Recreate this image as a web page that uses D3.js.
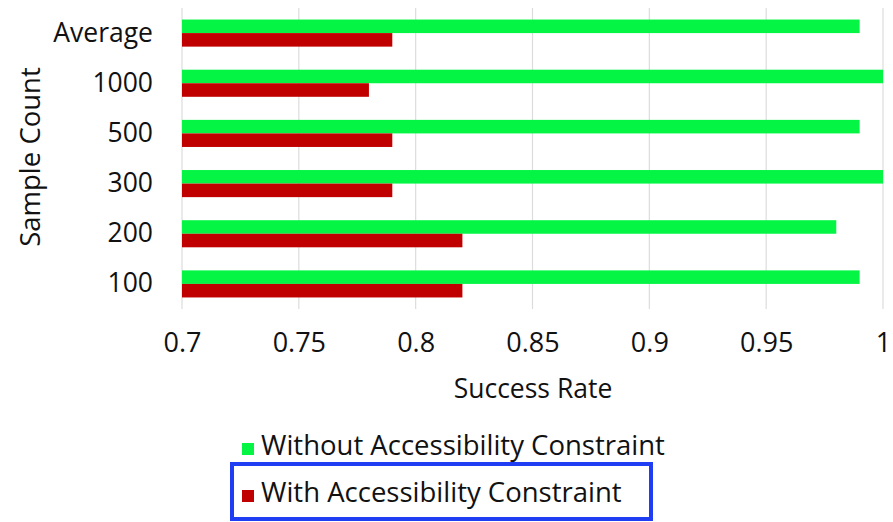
<!DOCTYPE html>
<html>
<head>
<meta charset="utf-8">
<script src="https://cdn.jsdelivr.net/npm/d3@7/dist/d3.min.js"></script>
<style>
  html, body { margin: 0; padding: 0; background: #fff; }
  svg { display: block; font-family: "Open Sans", Lato, sans-serif; }
</style>
</head>
<body>
<svg id="chart" width="893" height="522"></svg>
<script>
// Sample counts, listed top to bottom
const categories = ["Average", "1000", "500", "300", "200", "100"];
const withoutConstraint = [0.99, 1.0, 0.99, 1.0, 0.98, 0.99];
const withConstraint = [0.79, 0.78, 0.79, 0.79, 0.82, 0.82];
const xTicks = [0.7, 0.75, 0.8, 0.85, 0.9, 0.95, 1.0];
const xTickLabels = ["0.7", "0.75", "0.8", "0.85", "0.9", "0.95", "1"];
const seriesNames = ["Without Accessibility Constraint", "With Accessibility Constraint"];
const seriesColors = ["#05f545", "#c00000"];

const svg = d3.select("#chart");
const font = "'Open Sans', Lato, sans-serif";
const textColor = "#111";

const x = d3.scaleLinear().domain([0.7, 1.0]).range([182, 883]);
const y = d3.scaleBand().domain(categories).range([8, 309]).paddingInner(0.46).paddingOuter(0.23);
const sub = d3.scaleBand().domain([0, 1]).range([0, y.bandwidth()]);

// Vertical gridlines
svg.append("g")
  .selectAll("line")
  .data(xTicks)
  .join("line")
  .attr("x1", d => x(d)).attr("x2", d => x(d))
  .attr("y1", 8).attr("y2", 309)
  .attr("stroke", "#dcdcdc").attr("stroke-width", 1.2);

// Bars, one group per series
const series = [withoutConstraint, withConstraint];
series.forEach((vals, si) => {
  svg.append("g")
    .selectAll("rect")
    .data(categories.map((c, i) => ({ c, v: vals[i] })))
    .join("rect")
    .attr("x", x(0.7))
    .attr("y", d => y(d.c) + sub(si))
    .attr("width", d => x(d.v) - x(0.7))
    .attr("height", sub.bandwidth())
    .attr("fill", seriesColors[si]);
});

// Category axis
const yAxis = svg.append("g")
  .attr("transform", "translate(182,0)")
  .call(d3.axisLeft(y).tickSize(0).tickPadding(29));
yAxis.select(".domain").remove();
yAxis.selectAll("text")
  .attr("font-size", 26.5).attr("fill", textColor)
  .attr("font-family", font);

// Value axis
const xAxis = svg.append("g")
  .attr("transform", "translate(0,331)")
  .call(d3.axisBottom(x).tickValues(xTicks).tickFormat((d, i) => xTickLabels[i]).tickSize(0).tickPadding(2));
xAxis.select(".domain").remove();
xAxis.selectAll("text")
  .attr("font-size", 27).attr("fill", textColor)
  .attr("font-family", font);

// Axis titles
svg.append("text")
  .attr("x", 533).attr("y", 398)
  .attr("text-anchor", "middle")
  .attr("font-size", 26.5).attr("fill", textColor)
  .text("Success Rate");

svg.append("text")
  .attr("transform", "translate(40,157) rotate(-90)")
  .attr("text-anchor", "middle")
  .attr("font-size", 27.5).attr("fill", textColor)
  .text("Sample Count");

// Legend
const legend = svg.append("g");
const legendBaselines = [455, 502];
seriesNames.forEach((name, i) => {
  legend.append("rect")
    .attr("x", 242).attr("y", legendBaselines[i] - 12)
    .attr("width", 12).attr("height", 12)
    .attr("fill", seriesColors[i]);
  legend.append("text")
    .attr("x", 261).attr("y", legendBaselines[i])
    .attr("font-size", 27.5).attr("fill", textColor)
    .text(name);
});

// Highlight box around the second legend entry
svg.append("rect")
  .attr("x", 232).attr("y", 464)
  .attr("width", 419).attr("height", 55)
  .attr("fill", "none")
  .attr("stroke", "#1f3df2").attr("stroke-width", 4);
</script>
</body>
</html>
